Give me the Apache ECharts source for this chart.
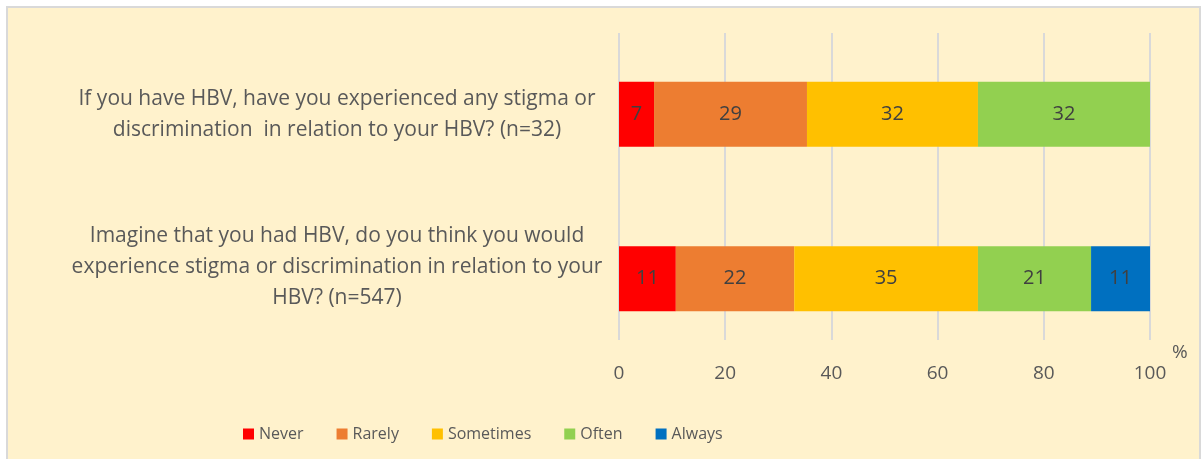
<!DOCTYPE html>
<html>
<head>
<meta charset="utf-8">
<script src="https://cdn.jsdelivr.net/npm/echarts@6/dist/echarts.min.js"></script>
<style>
  html, body { margin: 0; padding: 0; background: #fff; }
  #chart { width: 1203px; height: 459px; }
</style>
</head>
<body>
<div id="chart"></div>
<script>
// categories, bottom to top as drawn by the category axis
var questions = [
  'Imagine that you had HBV, do you think you would\nexperience stigma or discrimination in relation to your\nHBV? (n=547)',
  'If you have HBV, have you experienced any stigma or\ndiscrimination  in relation to your HBV? (n=32)'
];
var seriesNames = ['Never', 'Rarely', 'Sometimes', 'Often', 'Always'];
var seriesColors = ['#FF0000', '#ED7D31', '#FFC000', '#92D050', '#0070C0'];
// percentages, [imagine, have]
var neverVals = [10.7, 6.6];
var rarelyVals = [22.3, 28.8];
var sometimesVals = [34.6, 32.2];
var oftenVals = [21.3, 32.4];
var alwaysVals = [11.1, 0];
var xTicks = [0, 20, 40, 60, 80, 100];

var FONT = '"Open Sans", sans-serif';
var TEXT = '#595959';

var allVals = [neverVals, rarelyVals, sometimesVals, oftenVals, alwaysVals];

var series = [];
for (var i = 0; i < seriesNames.length; i++) {
  series.push({
    name: seriesNames[i],
    type: 'bar',
    stack: 'total',
    xAxisIndex: 0,
    yAxisIndex: 0,
    barWidth: 65,
    itemStyle: { color: seriesColors[i] },
    label: {
      show: true,
      position: 'inside',
      color: '#404040',
      fontFamily: FONT,
      fontSize: 20,
      formatter: function (p) {
        return p.value > 0 ? Math.round(p.value) : '';
      }
    },
    data: allVals[i]
  });
}

var chart = echarts.init(document.getElementById('chart'));
chart.setOption({
  backgroundColor: '#fff',
  animation: false,
  graphic: [{
    type: 'rect',
    z: -10,
    shape: { x: 7, y: 7, width: 1193, height: 470 },
    style: { fill: '#FFF2CC', stroke: '#D9D9D9', lineWidth: 2 }
  }],
  legend: {
    left: 238,
    top: 421,
    itemWidth: 11,
    itemHeight: 11,
    itemGap: 33,
    icon: 'rect',
    textStyle: { color: TEXT, fontFamily: FONT, fontSize: 16 },
    data: seriesNames
  },
  grid: [
    { left: 619, width: 531, top: 32, height: 329, outerBoundsMode: 'none' },
    { left: 619, width: 531, top: 33, height: 307, outerBoundsMode: 'none' }
  ],
  xAxis: [
    { gridIndex: 0, type: 'value', min: 0, max: 100, show: false },
    {
      gridIndex: 1, type: 'value', min: 0, max: 100, interval: 20,
      axisLine: { show: false },
      axisTick: { show: false },
      splitLine: { show: true, lineStyle: { color: '#D9D9D9', width: 2 } },
      axisLabel: {
        color: TEXT, fontFamily: FONT, fontSize: 19, margin: 24,
        formatter: function (v) { return xTicks.indexOf(v) >= 0 ? v : ''; }
      },
      name: '%',
      nameLocation: 'end',
      nameGap: 22,
      nameTextStyle: { color: TEXT, fontFamily: FONT, fontSize: 19, verticalAlign: 'bottom', padding: [0, 0, -22, 0] }
    }
  ],
  yAxis: [
    {
      gridIndex: 0, type: 'category', data: questions,
      axisLine: { show: false },
      axisTick: { show: false },
      axisLabel: {
        color: TEXT, fontFamily: FONT, fontSize: 21, lineHeight: 31,
        align: 'center', margin: 282,
        // the 3-line label sits a little above its bar in the original
        formatter: function (v, idx) {
          var lines = v.split('\n').map(function (l) { return '{t|' + l + '}'; });
          if (idx === 0) lines.push('{s| }');
          return lines.join('\n');
        },
        rich: {
          t: { fontFamily: FONT, fontSize: 21, lineHeight: 31, color: TEXT, align: 'center' },
          s: { fontSize: 4, lineHeight: 24 }
        }
      }
    },
    { gridIndex: 1, type: 'value', min: 0, max: 1, show: false }
  ],
  series: series
});
</script>
</body>
</html>
